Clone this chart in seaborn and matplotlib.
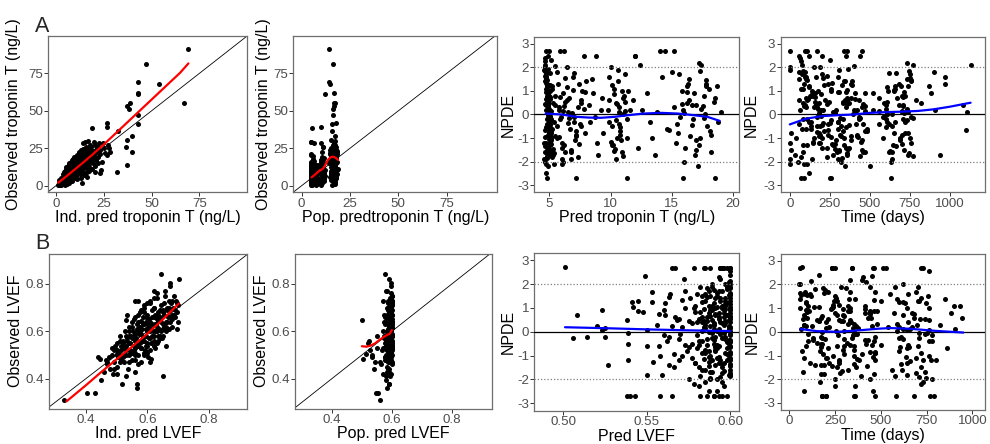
import numpy as np
import pandas as pd
import matplotlib
matplotlib.use('Agg')
import matplotlib.pyplot as plt
import seaborn as sns

# ---------------- Row A: troponin T ----------------
# observed vs individual / population predictions (panels 1-2)
trop_ipred = [
    69, 47, 43, 54, 43, 43, 67, 39, 37, 38,
    43, 43, 40, 37, 37, 31.7, 32.6, 39.6, 26.5, 26.9,
    18.7, 36.6, 26.9, 28.3, 24.8, 22, 19.9, 15.2, 14, 12.2,
    23.4, 23, 20.4, 13.4, 16.4, 25, 27, 21, 17, 15,
    1.2, 1.5, 2, 2.3, 2.8, 3, 3.3, 3.6, 4, 4.2,
    4.5, 4.7, 5, 5, 5.2, 5.5, 5.6, 5.8, 6, 6,
    6.3, 6.5, 6.6, 6.8, 7, 7.2, 7.4, 7.5, 7.7, 8,
    8.2, 8.4, 8.5, 8.8, 9, 9, 9.3, 9.5, 9.7, 10,
    10.2, 10.4, 10.5, 10.8, 11, 11.2, 11.4, 11.5, 11.8, 12,
    12.2, 12.4, 12.6, 12.8, 13, 13.2, 13.5, 13.7, 14, 14.2,
    14.4, 14.6, 14.8, 15, 15.2, 15.5, 15.7, 16, 16.2, 16.5,
    16.8, 17, 17.3, 17.5, 17.8, 18, 18.3, 18.6, 19, 19.3,
    19.6, 20, 20.4, 20.8, 21.2, 21.6, 22, 22.4, 22.8, 23.2,
    2.5, 3.5, 4.4, 5.3, 6.2, 7.1, 8, 8.9, 9.8, 10.7,
    3, 4, 5, 6, 7, 8, 9, 10, 11, 12,
    13, 14.5, 16, 17.5, 19, 20.5, 22, 24, 25.5, 28,
    3.5, 5, 6.5, 8, 9.5, 11, 12.5, 14, 15.5, 17,
    1.8, 2.2, 2.6, 3.1, 3.4, 3.8, 4.1, 4.6, 4.9, 5.4,
    5.7, 6.1, 6.4, 6.9, 7.3, 7.6, 7.9, 8.3, 8.6, 9.1,
    9.4, 9.9, 10.3, 10.6, 11.1, 11.6, 12.1, 12.7, 13.3, 13.9,
    14.3, 14.9, 15.4, 15.9, 16.4, 17.1, 17.7, 18.4, 19.2, 20.2,
    1.5, 2.8, 3.9, 4.8, 5.9, 6.7, 7.8, 8.7, 9.6, 10.9,
    2, 3.2, 4.3, 5.1, 6.3, 7.2, 8.1, 9.2, 10.1, 11.3,
    4, 5.5, 7, 8.5, 10, 11.5, 13, 14.5, 16, 18,
    5, 6.5, 8, 9.5, 11, 12.5, 6, 8.5, 10.5, 12,
    2.4, 3.6, 4.7, 5.8, 6.9, 8.1, 9.3, 10.5, 11.7, 12.9,
    1.9, 3.1, 4.4, 5.6, 6.8, 8, 9.2, 10.4, 11.6, 13.6,
    14.8, 15.6, 16.6, 17.6, 18.8, 19.8, 21, 6.2, 7.4, 9,
]
trop_obs = [
    91, 81, 69, 68, 62, 61, 55, 55, 53, 51,
    47, 41, 33, 30.5, 13.8, 9.3, 36.5, 22.7, 41.6, 39.4,
    38.3, 26, 20.5, 22.7, 28.3, 26, 29.4, 29.4, 28.7, 22.7,
    10.5, 8.2, 9.3, 2, 6, 25, 27, 24, 20, 18,
    0.5, 2, 1, 3, 0.3, 4.5, 2, 5.5, 1.5, 3.5,
    6, 0.8, 8, 4, 2.5, 10, 6.5, 1.2, 3, 12,
    7.5, 5, 9.5, 2, 14, 8, 11, 4, 6.5, 16,
    9, 12.5, 3, 7, 11, 18, 5.5, 14, 9.5, 12,
    7, 15.5, 10, 20, 12.5, 4.5, 16, 9, 13.5, 21,
    11, 14.5, 8, 17.5, 13, 24, 10, 15, 19, 12,
    16.5, 8.5, 21, 14, 18, 11.5, 23, 16, 13, 20,
    17, 25, 14.5, 19, 22, 12, 26, 17.5, 21, 15,
    23.5, 20, 27, 17, 22.5, 25, 19, 28.5, 21.5, 24,
    1.8, 2.8, 4.8, 7, 3.8, 9.5, 5, 10.5, 16.5, 8.5,
    1, 7.5, 5.5, 8.5, 12, 6, 13, 5, 18, 9.5,
    5, 7, 9, 10, 11, 13, 15, 16, 22, 25,
    8, 11, 13.5, 15, 19, 20.5, 22, 24.5, 26, 30,
    1.2, 0.4, 2.4, 1.6, 4, 2.6, 6.5, 3.2, 5, 8.8,
    4.5, 6.8, 10.5, 8.2, 5.8, 12.8, 9.8, 7.6, 13.8, 10.2,
    6.8, 11.2, 13.2, 8.6, 15.2, 11.8, 17.2, 12.6, 16.2, 13.6,
    17.8, 12.8, 19.6, 15, 21.8, 18.2, 16.2, 23, 19.4, 22,
    3.5, 5, 6, 9.5, 11, 3.5, 12, 5.8, 7.8, 14.2,
    0.2, 1.3, 2.2, 1.8, 4.8, 6, 7.5, 8.5, 10.8, 10.6,
    9, 12.5, 15.5, 17, 17.8, 19, 21.5, 22.5, 24, 27.5,
    4.2, 7.2, 8.8, 11.5, 13.8, 15.8, 2.8, 10.8, 6.2, 18.5,
    2.9, 3.9, 5.2, 6.2, 7.9, 8.9, 10.9, 11.6, 12.2, 14.8,
    2.6, 0.9, 3.3, 4.2, 6.1, 10.8, 8, 12.8, 9.8, 18.8,
    15.4, 17.4, 15.8, 21, 20.2, 18.6, 23.8, 9.6, 10.2, 15.2,
]
trop_ppred = [
    14, 16, 14.3, 14.6, 16.5, 12, 17.5, 17, 16.5, 16.2,
    16, 15.5, 17.5, 15, 17, 18, 15.5, 16, 18, 10.2,
    5.5, 17.8, 16.8, 15.2, 9.8, 11, 5, 4.9, 6.5, 10.5,
    18.5, 17, 15.8, 7, 11.5, 16, 17.2, 14.8, 15.5, 10.8,
    5, 4.7, 6, 5.3, 7.5, 4.8, 10.5, 5.8, 6.8, 4.6,
    5.2, 9.8, 4.9, 7, 5.6, 5.1, 11, 8, 16, 4.8,
    6.2, 5.4, 15, 10, 4.7, 7.8, 5.5, 17.5, 10.8, 5,
    6.5, 15.5, 11.5, 5.2, 17, 6, 14.5, 10.3, 16.6, 7.2,
    4.6, 11.2, 16.8, 5.8, 15.8, 10.5, 17.8, 7, 10, 15.2,
    5.5, 16.2, 18.2, 10.2, 6.8, 16.4, 11.2, 17.3, 15.3, 4.9,
    10.7, 17.6, 14.9, 7.5, 16.9, 11, 18.3, 15.1, 6, 17.1,
    15.7, 16.1, 10.4, 17.9, 14.7, 16.7, 16.3, 9.9, 18.1, 15.6,
    16.6, 17.4, 16, 14.6, 18.4, 15.4, 17, 16.9, 15.9, 17.7,
    5.8, 5, 4.6, 6, 5.2, 4.8, 8.5, 5.6, 10.6, 11.6,
    16.5, 15.2, 17, 6.5, 5.3, 16.2, 5, 17.8, 16.4, 10.9,
    17.6, 15.8, 10.1, 16.5, 18.7, 17.3, 14.4, 16.8, 15.5, 16.3,
    4.7, 5.4, 7.2, 4.8, 10.4, 5.1, 15.9, 16.3, 10.9, 17.2,
    4.8, 5.6, 5.1, 6.6, 4.7, 7.3, 5.9, 9.7, 16.1, 5.5,
    11.4, 5.3, 16.7, 4.9, 10.9, 6.1, 15.6, 5.7, 17.4, 11.1,
    5, 16.3, 7.7, 15.4, 5.4, 17.1, 11.3, 15.7, 6.3, 16.6,
    15, 10.6, 17.3, 5.7, 15.8, 16.4, 10.7, 17.6, 16.1, 18,
    6.3, 4.7, 5.5, 10.3, 4.6, 15.3, 6.9, 17.7, 10.1, 16.9,
    15.9, 10.2, 17.1, 5, 16.4, 4.9, 15.4, 11.6, 5.9, 17.4,
    5.2, 6.4, 10.7, 5.7, 16.7, 16, 4.8, 17.2, 15.4, 16.6,
    6.7, 7.4, 8.2, 7.9, 8.4, 10.1, 6.3, 11.8, 12.3, 11.5,
    4.6, 5.2, 15.9, 6.1, 16.8, 11.3, 4.8, 17.5, 15.1, 10.6,
    5.3, 17.2, 6.4, 15.5, 5.1, 16.1, 17, 6, 5.6, 16.2,
    17.7, 14.9, 18.2, 16.5, 15.3, 17.8, 16.6, 10.4, 11.9, 16.4,
]
# NPDE vs prediction / time (panels 3-4)
trop_pred = [
    4.7, 5.0, 5.9, 6.2, 14.0, 14.4, 15.2, 4.8, 7.2, 11.3,
    18.5, 15.9, 4.9, 5.1, 8.8, 12.0, 7.8, 17.2, 4.7, 6.0,
    4.6, 4.7, 4.75, 4.8, 4.85, 4.9, 4.95, 5.0, 5.05, 5.1,
    4.65, 4.7, 4.8, 4.85, 4.9, 4.95, 5.0, 5.1, 5.15, 5.2,
    4.6, 4.7, 4.75, 4.8, 4.9, 5.0, 5.05, 5.1, 4.65, 4.85,
    4.7, 4.8, 4.9, 5.0, 5.1, 5.2, 4.6, 4.75, 4.95, 5.15,
    5.3, 5.5, 5.7, 5.9, 6.1, 6.3, 6.5, 6.7, 6.9, 7.1,
    7.3, 7.5, 7.7, 7.9, 5.4, 5.8, 6.2, 6.6, 7.0, 7.4,
    5.6, 6.0, 6.4, 6.8, 7.2, 7.6, 8.0, 5.35, 6.45, 7.35,
    8.3, 8.6, 8.9, 9.2, 9.4, 8.5, 9.0, 8.2, 9.3, 8.7,
    9.9, 10.1, 10.3, 10.5, 10.7, 10.9, 11.1, 11.3, 10.0, 10.4,
    10.6, 10.8, 11.0, 11.2, 10.2, 9.8, 10.45, 10.65, 10.85, 11.4,
    11.8, 12.2, 12.6, 13.0, 13.4, 13.8, 14.2, 14.6, 12.0, 13.2,
    15.2, 15.5, 15.8, 16.1, 16.4, 16.7, 17.0, 17.3, 17.6, 17.9,
    18.2, 18.5, 18.8, 19.0, 15.6, 16.0, 16.3, 16.9, 17.4, 18.0,
    12.4, 14.8, 16.6, 17.8, 13.6, 15.0, 18.7, 11.6, 17.1, 16.2,
    4.7, 4.8, 5.0, 5.3, 5.6, 6.1, 4.9, 5.2, 6.8, 10.1,
    4.62, 4.68, 4.72, 4.78, 4.82, 4.88, 4.92, 4.98, 5.02, 5.08,
    4.62, 4.68, 4.72, 4.78, 4.82, 4.88, 4.92, 4.98, 5.02, 5.08,
    4.65, 4.75, 4.85, 4.95, 5.05, 5.15, 4.7, 4.8, 4.9, 5.0,
    5.25, 5.45, 5.65, 5.85, 6.05, 6.25, 6.55, 6.85, 7.15, 7.55,
    5.3, 5.5, 5.8, 6.1, 6.4, 6.75, 7.05, 7.45, 7.85, 5.95,
    9.9, 10.15, 10.35, 10.55, 10.75, 10.95, 11.15, 15.4, 15.9, 16.5,
    16.8, 17.2, 17.5, 17.8, 18.1, 18.4, 15.7, 16.2, 17.0, 17.7,
    4.64, 4.7, 4.76, 4.82, 4.9, 4.96, 5.04, 5.12, 4.66, 4.86,
    4.61, 4.67, 4.73, 4.79, 4.84, 4.91, 4.97, 5.03, 5.09, 5.14,
    4.61, 4.67, 4.73, 4.79, 4.84, 4.91, 4.97, 5.03, 5.09, 5.14,
    5.25, 5.5, 5.75, 6.0, 6.3, 6.6, 6.9, 7.2, 7.6, 7.9,
    9.85, 10.05, 10.25, 10.45, 10.6, 10.8, 11.0, 11.2, 11.35, 10.7,
    15.3, 15.8, 16.2, 16.6, 17.0, 17.4, 17.8, 18.2, 16.4, 17.6,
    4.72, 4.88, 5.06, 5.4, 6.2, 7.0, 10.3, 11.0, 16.0, 17.3,
]
trop_npde = [
    2.7, 2.7, 2.7, 2.7, 2.7, 2.7, 2.7, -2.7, -2.7, -2.7,
    -2.7, -2.7, 2.5, 2.3, 2.5, 2.5, 2.5, 2.2, -2.5, -2.1,
    1.9, 1.5, 1.1, 0.7, 0.3, -0.1, -0.5, -0.9, -1.3, -1.7,
    2.0, 1.7, 1.3, 0.9, 0.5, 0.1, -0.3, -0.7, -1.1, -1.5,
    -1.9, -2.1, 0.2, -0.2, 0.6, -0.6, 1.0, -1.0, 1.4, -1.4,
    0.4, -0.4, 0.0, 0.8, -0.8, 1.2, -1.2, 1.6, -1.6, 0.15,
    0.5, -0.9, 1.3, -0.2, 0.9, -1.6, 0.1, -0.6, 1.6, -1.1,
    0.3, -0.4, 1.0, -0.8, -0.3, 0.2, -1.3, 0.7, -0.1, 1.3,
    1.8, -1.9, 0.6, -1.5, -0.7, 0.5, 1.4, -2.1, 2.0, -1.8,
    -0.3, 0.9, -1.2, 0.2, -0.8, 1.5, -1.7, 0.4, 0.7, -0.1,
    0.6, -0.5, 1.1, -1.0, 0.3, -1.6, 0.8, -0.2, 2.0, -1.9,
    1.4, -0.7, 0.0, 1.7, -1.3, 0.2, 0.5, -0.4, -1.1, 1.0,
    0.6, -1.4, 0.2, 0.9, -1.0, 0.1, 1.6, -0.6, 2.5, -0.3,
    0.3, -0.8, 1.0, -1.4, 0.6, -0.2, 0.4, -1.0, 0.8, -0.5,
    -1.6, 0.7, -0.3, 0.1, 1.7, -2.0, 1.3, -1.7, 2.1, 1.1,
    2.1, -0.65, 0.4, 1.3, -1.7, 1.8, 1.2, 0.2, -2.2, 0.5,
    -1.2, -1.5, -0.8, -1.7, -1.0, -2.0, -0.4, -1.8, -1.6, -1.3,
    2.4, 2.1, 1.8, 1.45, 1.15, 0.85, 0.55, 0.25, -0.05, -0.35,
    -0.65, -0.95, -1.25, -1.55, -1.85, -2.2, 1.95, 1.25, 0.65, -0.15,
    0.45, -0.55, 1.05, -1.05, 0.75, -0.25, 1.55, -1.75, 0.35, -0.75,
    1.1, 0.4, -0.5, 0.75, -1.2, 1.55, -0.35, 0.05, -0.85, 0.6,
    -1.45, 2.05, -0.95, 0.15, 1.15, -1.9, 1.75, -1.25, 0.25, -0.1,
    -0.3, 1.25, -1.45, 0.45, -0.85, 1.0, 0.15, -0.4, 0.2, -0.9,
    0.9, -1.3, 0.35, 1.45, -0.7, 0.55, -0.1, 1.2, -1.5, 0.0,
    1.65, 1.35, 0.95, 0.6, 0.2, -0.2, -0.6, -1.0, -1.35, -1.65,
    2.25, 1.85, 1.6, 1.2, 0.8, 0.45, 0.05, -0.45, -0.85, -1.25,
    -1.6, -2.0, 1.4, 0.95, 0.5, 0.0, -0.4, -1.15, 1.75, -0.2,
    -0.6, 0.8, 0.3, -1.4, 0.55, -0.15, 1.05, -0.9, -0.5, 0.95,
    1.6, -1.15, 0.85, -0.25, 1.9, -0.55, -1.75, 0.55, -1.0, 0.1,
    -1.2, 0.45, 0.95, -0.45, -1.1, 0.25, 1.2, -0.85, 1.5, -0.15,
    0.65, -0.85, 1.25, -1.65, 0.35, -0.3, -1.55, 0.7, 0.05, 1.85,
]
trop_time = [
    0, 95, 110, 170, 340, 360, 450, 70, 90, 250,
    260, 630, 120, 250, 440, 350, 200, 730, 120, 110,
    0, 60, 80, 100, 150, 170, 190, 320, 340, 360,
    0, 75, 90, 160, 180, 270, 300, 330, 380, 450,
    0, 0, 65, 85, 110, 130, 175, 200, 345, 370,
    600, 620, 640, 700, 720, 740, 760, 300, 470, 560,
    80, 180, 240, 330, 410, 620, 700, 100, 165, 290,
    350, 460, 650, 740, 120, 195, 270, 380, 430, 680,
    60, 140, 220, 310, 480, 590, 760, 90, 150, 230,
    300, 520, 180, 420, 650, 100, 270, 710, 360, 580,
    60, 170, 260, 340, 450, 640, 720, 110, 190, 300,
    390, 470, 610, 750, 80, 210, 330, 560, 690, 140,
    790, 230, 520, 880, 150, 410, 970, 300, 60, 660,
    100, 180, 260, 350, 430, 600, 680, 750, 130, 320,
    460, 560, 720, 1110, 200, 630, 380, 740, 770, 660,
    1130, 1100, 1080, 970, 940, 900, 870, 905, 500, 820,
    0, 5, 10, 30, 40, 50, 60, 70, 85, 105,
    62, 78, 95, 105, 122, 140, 155, 178, 195, 210,
    240, 255, 280, 305, 325, 345, 365, 390, 410, 440,
    460, 600, 650, 690, 710, 730, 750, 770, 88, 168,
    72, 98, 132, 158, 186, 205, 250, 285, 315, 345,
    365, 400, 425, 470, 610, 640, 665, 700, 730, 755,
    130, 215, 285, 360, 420, 615, 700, 240, 290, 420,
    470, 645, 705, 760, 215, 330, 590, 695, 715, 610,
    230, 265, 310, 355, 400, 430, 480, 580, 665, 745,
    68, 84, 102, 118, 145, 162, 184, 202, 238, 262,
    292, 318, 338, 352, 372, 395, 415, 445, 620, 705,
    76, 128, 172, 204, 246, 312, 356, 380, 640, 712,
    92, 148, 198, 258, 305, 352, 438, 605, 690, 740,
    145, 232, 302, 372, 450, 600, 655, 700, 735, 770,
    112, 188, 325, 355, 468, 605, 625, 668, 712, 748,
]
# smoothers
trop_ind_smooth_x = [1.2, 5, 10, 15, 20, 25, 30, 35, 40, 45, 50, 55, 60, 65, 69.3]
trop_ind_smooth_y = [2, 5.8, 11, 16.3, 21.8, 27.5, 33.5, 39.5, 45.5, 51.5, 57.5, 63.5, 69.5, 75.5, 81.7]
trop_pop_smooth_x = [5.2, 7, 8.6, 10, 11.2, 12.5, 13.8, 15, 16.3, 17.5, 18.9]
trop_pop_smooth_y = [5.6, 7.5, 9.4, 10.5, 11.6, 14.5, 17.6, 19, 19.4, 18.7, 17.2]
trop_npde_pred_x = [4.7, 6, 7.25, 8.2, 9.2, 10.3, 11.4, 12.7, 14.1, 15.5, 16.8, 17.9, 18.9]
trop_npde_pred_y = [0.04, 0.0, -0.1, -0.13, -0.14, -0.1, -0.03, 0.04, 0.07, 0.04, -0.03, -0.1, -0.27]
trop_npde_time_x = [0, 100, 200, 300, 400, 500, 600, 700, 800, 900, 1000, 1130]
trop_npde_time_y = [-0.42, -0.18, -0.07, -0.03, 0.0, 0.07, 0.1, 0.12, 0.15, 0.22, 0.33, 0.5]

# ---------------- Row B: LVEF ----------------
lvef_ipred = [
    0.328, 0.404, 0.429, 0.449, 0.445, 0.44, 0.489, 0.516, 0.567, 0.567,
    0.651, 0.695, 0.613, 0.644, 0.673, 0.702, 0.673, 0.657, 0.559, 0.53,
    0.52, 0.50, 0.515, 0.49, 0.47, 0.5, 0.485, 0.51, 0.534, 0.54,
    0.47, 0.475, 0.48, 0.485, 0.49, 0.495, 0.5, 0.505, 0.51, 0.515,
    0.52, 0.523, 0.527, 0.53, 0.533, 0.537, 0.54, 0.543, 0.547, 0.55,
    0.552, 0.555, 0.558, 0.561, 0.564, 0.567, 0.57, 0.573, 0.576, 0.579,
    0.582, 0.585, 0.588, 0.591, 0.594, 0.597, 0.6, 0.603, 0.606, 0.609,
    0.612, 0.615, 0.618, 0.621, 0.624, 0.627, 0.63, 0.633, 0.636, 0.639,
    0.642, 0.645, 0.648, 0.651, 0.654, 0.657, 0.66, 0.663, 0.666, 0.669,
    0.672, 0.675, 0.678, 0.681, 0.684, 0.687, 0.69, 0.693, 0.696, 0.699,
    0.54, 0.55, 0.56, 0.57, 0.58, 0.59, 0.6, 0.61, 0.62, 0.63,
    0.545, 0.555, 0.565, 0.575, 0.585, 0.595, 0.605, 0.615, 0.625, 0.635,
    0.53, 0.56, 0.59, 0.62, 0.65, 0.68, 0.52, 0.58, 0.64, 0.6,
    0.465, 0.46, 0.5, 0.53, 0.56, 0.61, 0.66, 0.7, 0.62, 0.57,
    0.575, 0.585, 0.595, 0.605, 0.615, 0.625, 0.635, 0.645, 0.655, 0.665,
    0.5, 0.51, 0.52, 0.53, 0.54, 0.55, 0.56, 0.57, 0.58, 0.59,
    0.6, 0.61, 0.62, 0.63, 0.64, 0.65, 0.66, 0.67, 0.68, 0.69,
    0.505, 0.515, 0.525, 0.535, 0.545, 0.555, 0.565, 0.575, 0.585, 0.595,
    0.605, 0.615, 0.625, 0.635, 0.645, 0.655, 0.665, 0.675, 0.685, 0.695,
    0.56, 0.57, 0.58, 0.59, 0.6, 0.61, 0.62, 0.63, 0.64, 0.65,
    0.54, 0.55, 0.56, 0.57, 0.58, 0.59, 0.6, 0.61, 0.62, 0.63,
    0.49, 0.5, 0.51, 0.52, 0.53, 0.54, 0.55, 0.56, 0.57, 0.58,
    0.59, 0.6, 0.61, 0.62, 0.63, 0.64, 0.65, 0.66, 0.67, 0.68,
]
lvef_obs = [
    0.31, 0.34, 0.34, 0.393, 0.485, 0.49, 0.418, 0.379, 0.362, 0.379,
    0.41, 0.611, 0.485, 0.841, 0.806, 0.82, 0.79, 0.77, 0.728, 0.649,
    0.552, 0.503, 0.52, 0.442, 0.47, 0.5, 0.53, 0.56, 0.67, 0.58,
    0.46, 0.49, 0.44, 0.5, 0.47, 0.54, 0.45, 0.51, 0.58, 0.48,
    0.53, 0.47, 0.6, 0.5, 0.56, 0.44, 0.62, 0.52, 0.58, 0.48,
    0.6, 0.54, 0.65, 0.5, 0.57, 0.63, 0.46, 0.59, 0.68, 0.53,
    0.61, 0.56, 0.7, 0.52, 0.64, 0.58, 0.67, 0.49, 0.62, 0.72,
    0.55, 0.66, 0.6, 0.7, 0.53, 0.63, 0.74, 0.58, 0.68, 0.61,
    0.65, 0.71, 0.57, 0.68, 0.62, 0.75, 0.6, 0.7, 0.66, 0.73,
    0.64, 0.69, 0.72, 0.62, 0.7, 0.75, 0.66, 0.73, 0.68, 0.71,
    0.55, 0.57, 0.56, 0.6, 0.59, 0.63, 0.6, 0.64, 0.66, 0.65,
    0.51, 0.52, 0.61, 0.55, 0.66, 0.54, 0.57, 0.69, 0.63, 0.56,
    0.58, 0.59, 0.51, 0.58, 0.63, 0.67, 0.5, 0.645, 0.69, 0.55,
    0.48, 0.43, 0.42, 0.41, 0.43, 0.47, 0.54, 0.64, 0.77, 0.73,
    0.62, 0.575, 0.66, 0.615, 0.58, 0.67, 0.645, 0.6, 0.72, 0.64,
    0.52, 0.47, 0.56, 0.54, 0.5, 0.62, 0.53, 0.64, 0.56, 0.68,
    0.63, 0.6, 0.7, 0.62, 0.66, 0.69, 0.64, 0.7, 0.73, 0.69,
    0.49, 0.54, 0.5, 0.57, 0.55, 0.58, 0.55, 0.6, 0.63, 0.61,
    0.65, 0.63, 0.6, 0.67, 0.64, 0.67, 0.69, 0.66, 0.67, 0.72,
    0.51, 0.54, 0.53, 0.56, 0.54, 0.57, 0.56, 0.6, 0.58, 0.61,
    0.6, 0.64, 0.66, 0.67, 0.69, 0.71, 0.72, 0.73, 0.74, 0.76,
    0.52, 0.55, 0.5, 0.49, 0.52, 0.47, 0.51, 0.48, 0.5, 0.47,
    0.5, 0.51, 0.52, 0.54, 0.55, 0.57, 0.58, 0.62, 0.61, 0.65,
]
lvef_ppred = [
    0.56, 0.553, 0.547, 0.58, 0.505, 0.535, 0.57, 0.59, 0.585, 0.592,
    0.595, 0.598, 0.59, 0.578, 0.596, 0.592, 0.598, 0.585, 0.57, 0.502,
    0.519, 0.513, 0.528, 0.539, 0.545, 0.535, 0.55, 0.524, 0.575, 0.552,
    0.565, 0.58, 0.587, 0.594, 0.56, 0.599, 0.583, 0.591, 0.577, 0.597,
    0.586, 0.598, 0.572, 0.593, 0.581, 0.589, 0.596, 0.567, 0.599, 0.584,
    0.594, 0.579, 0.598, 0.588, 0.575, 0.592, 0.6, 0.583, 0.597, 0.571,
    0.59, 0.598, 0.586, 0.595, 0.58, 0.599, 0.593, 0.576, 0.597, 0.589,
    0.599, 0.584, 0.595, 0.591, 0.6, 0.578, 0.596, 0.587, 0.593, 0.598,
    0.594, 0.6, 0.582, 0.597, 0.59, 0.599, 0.586, 0.596, 0.592, 0.598,
    0.6, 0.595, 0.598, 0.589, 0.597, 0.6, 0.594, 0.599, 0.596, 0.6,
    0.578, 0.592, 0.596, 0.585, 0.6, 0.588, 0.595, 0.599, 0.582, 0.597,
    0.589, 0.583, 0.594, 0.598, 0.576, 0.6, 0.591, 0.587, 0.596, 0.593,
    0.599, 0.59, 0.596, 0.573, 0.588, 0.592, 0.581, 0.597, 0.6, 0.585,
    0.577, 0.585, 0.596, 0.58, 0.59, 0.598, 0.594, 0.6, 0.582, 0.599,
    0.591, 0.597, 0.584, 0.6, 0.593, 0.589, 0.598, 0.595, 0.587, 0.6,
    0.593, 0.586, 0.598, 0.58, 0.595, 0.59, 0.6, 0.574, 0.597, 0.592,
    0.599, 0.586, 0.594, 0.6, 0.589, 0.596, 0.598, 0.583, 0.6, 0.591,
    0.578, 0.599, 0.59, 0.587, 0.596, 0.6, 0.583, 0.594, 0.589, 0.597,
    0.592, 0.6, 0.597, 0.585, 0.599, 0.594, 0.591, 0.598, 0.6, 0.595,
    0.598, 0.592, 0.588, 0.6, 0.596, 0.583, 0.599, 0.591, 0.595, 0.588,
    0.587, 0.595, 0.58, 0.599, 0.591, 0.597, 0.6, 0.586, 0.593, 0.598,
    0.6, 0.594, 0.588, 0.597, 0.584, 0.599, 0.593, 0.59, 0.598, 0.595,
    0.599, 0.591, 0.596, 0.589, 0.6, 0.593, 0.597, 0.598, 0.594, 0.6,
]
lvef_pred = [
    0.501, 0.506, 0.508, 0.514, 0.52, 0.523, 0.523, 0.525, 0.525, 0.527,
    0.538, 0.539, 0.539, 0.539, 0.538, 0.54, 0.543, 0.541, 0.542, 0.545,
    0.545, 0.548, 0.549, 0.553, 0.553, 0.55, 0.55, 0.55, 0.559, 0.558,
    0.556, 0.558, 0.56, 0.562, 0.564, 0.566, 0.568, 0.57, 0.572, 0.574,
    0.557, 0.561, 0.565, 0.565, 0.569, 0.571, 0.573, 0.575, 0.563, 0.567,
    0.576, 0.577, 0.578, 0.579, 0.58, 0.581, 0.582, 0.583, 0.584, 0.585,
    0.586, 0.587, 0.588, 0.589, 0.586, 0.587, 0.588, 0.589, 0.585, 0.584,
    0.59, 0.591, 0.592, 0.593, 0.594, 0.595, 0.596, 0.597, 0.598, 0.599,
    0.6, 0.6, 0.6, 0.6, 0.6, 0.6, 0.6, 0.6, 0.6, 0.6,
    0.599, 0.598, 0.597, 0.596, 0.595, 0.594, 0.593, 0.592, 0.591, 0.59,
    0.6, 0.6, 0.6, 0.6, 0.599, 0.598, 0.597, 0.596, 0.595, 0.594,
    0.593, 0.592, 0.591, 0.59, 0.589, 0.588, 0.587, 0.586, 0.585, 0.584,
    0.598, 0.596, 0.594, 0.592, 0.6, 0.597, 0.595, 0.6, 0.599, 0.593,
    0.59, 0.588, 0.598, 0.596, 0.594, 0.583, 0.597, 0.599, 0.578, 0.581,
    0.597, 0.595, 0.593, 0.591, 0.589, 0.587, 0.585, 0.583, 0.581, 0.579,
    0.6, 0.6, 0.6, 0.6, 0.6, 0.6, 0.6, 0.6, 0.6, 0.6,
    0.599, 0.598, 0.597, 0.596, 0.595, 0.594, 0.593, 0.592, 0.591, 0.59,
    0.589, 0.588, 0.587, 0.586, 0.585, 0.584, 0.583, 0.582, 0.581, 0.58,
    0.579, 0.577, 0.575, 0.573, 0.571, 0.569, 0.567, 0.565, 0.563, 0.561,
    0.598, 0.596, 0.594, 0.592, 0.59, 0.588, 0.586, 0.584, 0.582, 0.58,
    0.6, 0.6, 0.6, 0.599, 0.598, 0.597, 0.596, 0.595, 0.594, 0.593,
    0.592, 0.591, 0.59, 0.589, 0.588, 0.587, 0.586, 0.585, 0.584, 0.583,
    0.6, 0.599, 0.597, 0.595, 0.593, 0.591, 0.589, 0.587, 0.585, 0.583,
    0.6, 0.6, 0.6, 0.6, 0.6, 0.6, 0.6, 0.6, 0.6, 0.6,
    0.599, 0.598, 0.597, 0.596, 0.595, 0.594, 0.593, 0.592, 0.591, 0.59,
    0.589, 0.587, 0.585, 0.583, 0.581, 0.579, 0.577, 0.575, 0.573, 0.571,
    0.598, 0.596, 0.594, 0.592, 0.59, 0.588, 0.586, 0.584, 0.582, 0.58,
    0.569, 0.566, 0.563, 0.56, 0.557, 0.554, 0.578, 0.588, 0.595, 0.6,
    0.6, 0.599, 0.597, 0.595, 0.593, 0.591, 0.589, 0.587, 0.585, 0.583,
]
lvef_npde = [
    2.73, -0.28, 0.7, -0.24, 0.24, 0.91, 0.07, -0.24, 0.17, -1.4,
    0.49, -0.07, -0.53, -1.19, -2.7, -2.7, -2.7, 1.26, 1.05, 1.3,
    0.87, 0.81, 2.34, 1.68, 1.26, 0.07, -0.59, -1.8, -1.82, -2.7,
    0.3, -1.0, 0.9, -0.4, 1.6, -1.5, 0.5, -0.1, 2.2, -0.8,
    -0.6, 1.2, 2.7, -2.7, -1.2, 0.2, 1.0, -2.0, -0.2, 0.6,
    1.4, -0.5, 2.7, -1.3, 0.4, -2.3, 1.9, -0.9, 0.1, 2.7,
    -2.7, 0.8, -1.7, 1.1, -0.3, 1.7, -1.0, 0.5, -2.1, 0.95,
    0.3, -1.4, 1.5, -0.6, 2.7, -2.7, 0.9, -0.2, 1.9, -1.8,
    2.7, 2.4, 1.9, 1.4, 0.9, 0.4, -0.1, -0.6, -1.1, -1.6,
    2.1, 1.2, -0.9, 0.6, -1.5, 0.0, 1.7, -1.1, 0.7, -2.7,
    -1.8, 1.6, 0.2, -0.4, 0.5, -0.7, 1.3, -1.3, 2.7, -0.1,
    0.8, -2.0, 1.0, -0.5, 2.0, 0.25, -1.25, 1.45, -0.75, 0.45,
    -1.2, 0.3, 1.4, -0.7, 0.8, 1.1, 1.1, 0.6, 0.1, -2.7,
    -2.7, -2.0, 2.7, 2.7, 1.3, -1.6, 0.35, -0.35, 1.0, -0.55,
    2.0, 1.0, 0.1, -0.8, -1.7, -2.5, 1.6, 0.6, -0.4, -1.3,
    2.15, 1.65, 1.15, 0.65, 0.15, -0.35, -0.85, -1.35, -1.75, 2.55,
    1.55, -0.45, 0.95, -1.65, 0.35, 2.2, -1.05, 0.05, -0.65, 1.2,
    -0.25, 0.65, -1.45, 1.85, 0.15, -0.85, 1.25, -2.7, 0.55, -0.15,
    0.85, -1.1, 0.45, -0.55, 1.35, -0.3, 2.7, 0.25, -1.4, 0.7,
    -2.7, -2.3, 2.7, -2.5, 1.75, 0.9, -0.55, 2.7, -1.85, 1.6,
    1.85, -0.15, -1.2, 0.25, -0.95, 1.4, 0.8, -0.25, -1.9, 0.55,
    1.05, -0.75, 0.35, -1.2, 1.5, 0.0, 0.6, -1.6, 0.2, -0.4,
    0.95, -0.6, 0.45, 1.7, -1.3, 0.75, -0.05, 1.1, -0.9, 0.4,
    2.0, 1.55, 1.05, 0.55, 0.05, -0.45, -0.95, -1.45, -1.85, 1.3,
    -1.1, 1.8, -0.3, 1.0, -1.75, 0.4, 2.3, -0.55, 1.4, 0.1,
    0.9, -0.8, 1.3, 0.05, -1.5, 1.1, 0.35, -0.65, 1.7, -1.0,
    0.7, -0.05, -1.2, 1.65, -0.35, 2.7, 0.45, -1.15, 0.85, -0.7,
    0.55, -0.95, 1.45, -0.15, 0.75, -1.25, -2.2, -1.95, -2.1, 2.7,
    -0.65, 0.2, 1.15, -1.35, 0.6, -0.2, 1.9, -1.05, 0.3, 1.5,
]
lvef_time = [
    70, 180, 260, 340, 450, 90, 640, 710, 200, 170,
    270, 360, 420, 730, 180, 200, 350, 90, 160, 260,
    480, 570, 450, 330, 620, 760, 260, 190, 640, 470,
    80, 240, 320, 460, 650, 720, 150, 370, 330, 600,
    700, 90, 460, 180, 270, 540, 760, 250, 170, 680,
    60, 170, 230, 270, 330, 360, 440, 470, 620, 250,
    200, 670, 740, 100, 300, 210, 350, 760, 730, 410,
    80, 190, 250, 300, 340, 360, 460, 610, 700, 170,
    60, 160, 280, 360, 440, 650, 740, 90, 200, 320,
    420, 630, 720, 170, 260, 350, 470, 690, 80, 580,
    460, 550, 600, 780, 330, 210, 710, 640, 230, 100,
    250, 440, 330, 180, 620, 90, 270, 720, 350, 160,
    800, 820, 850, 860, 880, 900, 930, 940, 905, 790,
    770, 780, 510, 530, 500, 560, 590, 410, 640, 500,
    55, 60, 65, 70, 75, 80, 85, 95, 100, 110,
    120, 190, 240, 300, 345, 430, 470, 610, 690, 760,
    65, 150, 225, 285, 320, 395, 455, 590, 655, 745,
    130, 175, 235, 310, 375, 440, 600, 680, 715, 780,
    95, 205, 280, 330, 460, 620, 720, 365, 140, 290,
    175, 250, 340, 455, 195, 330, 650, 730, 390, 110,
    185, 265, 380, 125, 300, 325, 415, 600, 705, 740,
    240, 290, 355, 470, 115, 180, 445, 615, 670, 765,
    295, 350, 160, 85, 215, 680, 750, 320, 470, 200,
    52, 98, 135, 210, 255, 315, 395, 425, 575, 700,
    78, 140, 195, 230, 275, 335, 400, 450, 585, 660,
    105, 165, 245, 300, 365, 410, 480, 605, 690, 760,
    620, 710, 775, 60, 130, 230, 290, 370, 440, 640,
    75, 185, 255, 345, 440, 660, 720, 745, 165, 455,
    170, 215, 270, 350, 430, 470, 575, 635, 695, 755,
]
lvef_ind_smooth_x = [0.337, 0.4, 0.45, 0.5, 0.55, 0.6, 0.65, 0.702]
lvef_ind_smooth_y = [0.304, 0.372, 0.428, 0.482, 0.535, 0.59, 0.65, 0.717]
lvef_pop_smooth_x = [0.50, 0.515, 0.53, 0.545, 0.56, 0.575, 0.585, 0.593, 0.60]
lvef_pop_smooth_y = [0.537, 0.535, 0.54, 0.55, 0.565, 0.578, 0.585, 0.59, 0.605]
lvef_npde_pred_x = [0.501, 0.525, 0.55, 0.575, 0.6]
lvef_npde_pred_y = [0.19, 0.15, 0.1, 0.06, 0.03]
lvef_npde_time_x = [60, 150, 260, 390, 480, 550, 660, 800, 950]
lvef_npde_time_y = [0.12, 0.03, 0.0, 0.07, 0.13, 0.16, 0.13, 0.04, -0.03]

# ---------------- figure ----------------
sns.set_style('white')
plt.rcParams['font.family'] = ['Liberation Sans', 'DejaVu Sans']

W, H = 990, 444
fig = plt.figure(figsize=(W / 100, H / 100), dpi=100)

TICK_C = '#4D4D4D'


def add_ax(l, r, t, b):
    return fig.add_axes([l / W, 1 - b / H, (r - l) / W, (b - t) / H])


def style(ax, box, xlim, ylim, xticks, xtl, yticks, ytl, xlab, ylab, ylab_right):
    l, r, t, b = box
    ax.set_xlim(xlim)
    ax.set_ylim(ylim)
    ax.set_xticks(xticks)
    ax.set_xticklabels(xtl)
    ax.set_yticks(yticks)
    ax.set_yticklabels(ytl)
    for s in ax.spines.values():
        s.set_visible(True)
        s.set_color('#6e6e6e')
        s.set_linewidth(0.9)
    ax.tick_params(axis='both', which='both', direction='out', length=2.6, width=0.7,
                   color='#333333', pad=1.2, labelsize=9.6, labelcolor=TICK_C,
                   bottom=True, left=True)
    ax.set_xlabel(xlab, fontsize=11.5, color='black')
    ax.set_ylabel(ylab, fontsize=11.5, color='black')
    ax.xaxis.set_label_coords(0.5, -17.5 / (b - t))
    ax.yaxis.set_label_coords((ylab_right - l) / (r - l), 0.5)
    ax.grid(False)


def pts(ax, x, y):
    sns.scatterplot(x=x, y=y, ax=ax, color='black', s=13, linewidth=0, edgecolor=None,
                    legend=False, zorder=3)


def smooth(ax, x, y, color):
    sns.lineplot(x=x, y=y, ax=ax, color=color, lw=1.6, sort=False, estimator=None,
                 legend=False, zorder=5)


def npde_refs(ax):
    ax.axhline(0, color='black', lw=0.9, zorder=4)
    for v in (2, -2):
        ax.axhline(v, color='#808080', lw=0.9, ls=(0, (1, 1.6)), zorder=4)


npde_ticks = [-3, -2, -1, 0, 1, 2, 3]
npde_tl = ['-3', '-2', '-1', '0', '1', '2', '3']

# Panel 1
b1 = (48.3, 247.3, 36.0, 192.3)
ax = add_ax(*b1)
ax.axline((0, 0), (1, 1), color='black', lw=0.6, zorder=2)
pts(ax, trop_ipred, trop_obs)
smooth(ax, trop_ind_smooth_x, trop_ind_smooth_y, 'red')
style(ax, b1, (-4.0, 100.1), (-4.4, 100), [0, 25, 50, 75], ['0', '25', '50', '75'],
      [0, 25, 50, 75], ['0', '25', '50', '75'],
      'Ind. pred troponin T (ng/L)', 'Observed troponin T (ng/L)', 21)

# Panel 2
b2 = (293.3, 497.3, 36.0, 192.3)
ax = add_ax(*b2)
ax.axline((0, 0), (1, 1), color='black', lw=0.6, zorder=2)
pts(ax, trop_ppred, trop_obs)
smooth(ax, trop_pop_smooth_x, trop_pop_smooth_y, 'red')
style(ax, b2, (-4.3, 101.2), (-4.4, 100), [0, 25, 50, 75], ['0', '25', '50', '75'],
      [0, 25, 50, 75], ['0', '25', '50', '75'],
      'Pop. predtroponin T (ng/L)', 'Observed troponin T (ng/L)', 270.7)

# Panel 3
b3 = (534.3, 739.3, 36.7, 192.3)
ax = add_ax(*b3)
pts(ax, trop_pred, trop_npde)
npde_refs(ax)
smooth(ax, trop_npde_pred_x, trop_npde_pred_y, 'blue')
style(ax, b3, (3.77, 20.5), (-3.3, 3.3), [5, 10, 15, 20], ['5', '10', '15', '20'],
      npde_ticks, npde_tl, 'Pred troponin T (ng/L)', 'NPDE', 516)

# Panel 4
b4 = (780.7, 985.3, 36.7, 192.3)
ax = add_ax(*b4)
pts(ax, trop_time, trop_npde)
npde_refs(ax)
smooth(ax, trop_npde_time_x, trop_npde_time_y, 'blue')
style(ax, b4, (-57, 1222), (-3.3, 3.3), [0, 250, 500, 750, 1000],
      ['0', '250', '500', '750', '1000'], npde_ticks, npde_tl, 'Time (days)', 'NPDE', 759)

# Panel 5
b5 = (49.3, 247.3, 253.7, 408.7)
ax = add_ax(*b5)
ax.axline((0.5, 0.5), (0.6, 0.6), color='black', lw=0.6, zorder=2)
pts(ax, lvef_ipred, lvef_obs)
smooth(ax, lvef_ind_smooth_x, lvef_ind_smooth_y, 'red')
style(ax, b5, (0.281, 0.925), (0.273, 0.928), [0.4, 0.6, 0.8], ['0.4', '0.6', '0.8'],
      [0.4, 0.6, 0.8], ['0.4', '0.6', '0.8'], 'Ind. pred LVEF', 'Observed LVEF', 22.7)

# Panel 6
b6 = (295.0, 492.3, 253.7, 408.7)
ax = add_ax(*b6)
ax.axline((0.5, 0.5), (0.6, 0.6), color='black', lw=0.6, zorder=2)
pts(ax, lvef_ppred, lvef_obs)
smooth(ax, lvef_pop_smooth_x, lvef_pop_smooth_y, 'red')
style(ax, b6, (0.277, 0.935), (0.273, 0.928), [0.4, 0.6, 0.8], ['0.4', '0.6', '0.8'],
      [0.4, 0.6, 0.8], ['0.4', '0.6', '0.8'], 'Pop. pred LVEF', 'Observed LVEF', 269.3)

# Panel 7
b7 = (534.3, 739.3, 253.0, 411.0)
ax = add_ax(*b7)
pts(ax, lvef_pred, lvef_npde)
npde_refs(ax)
smooth(ax, lvef_npde_pred_x, lvef_npde_pred_y, 'blue')
style(ax, b7, (0.4826, 0.6054), (-3.33, 3.31), [0.50, 0.55, 0.60], ['0.50', '0.55', '0.60'],
      npde_ticks, npde_tl, 'Pred LVEF', 'NPDE', 516)

# Panel 8
b8 = (780.7, 985.3, 253.7, 410.0)
ax = add_ax(*b8)
pts(ax, lvef_time, lvef_npde)
npde_refs(ax)
smooth(ax, lvef_npde_time_x, lvef_npde_time_y, 'blue')
style(ax, b8, (-48, 1070), (-3.3, 3.3), [0, 250, 500, 750, 1000],
      ['0', '250', '500', '750', '1000'], npde_ticks, npde_tl, 'Time (days)', 'NPDE', 760)

# panel tags
fig.text(35 / W, 1 - 32 / H, 'A', fontsize=15.5, va='baseline', ha='left')
fig.text(35 / W, 1 - 248.7 / H, 'B', fontsize=15.5, va='baseline', ha='left')

fig.savefig('out.png', dpi=100)
